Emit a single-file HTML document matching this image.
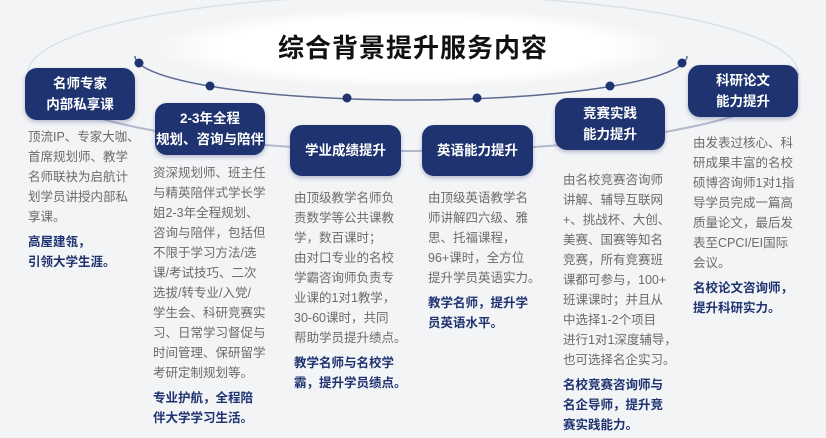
<!DOCTYPE html>
<html><head><meta charset="utf-8"><style>
html,body{margin:0;padding:0}
body{width:826px;height:438px;overflow:hidden;background:#f3f4f6;position:relative;font-family:"Liberation Sans","Noto Sans CJK SC",sans-serif}
.b{position:absolute;background:#1e3370;color:#fff;border-radius:12px;font-weight:bold;font-size:13.5px;line-height:21px;display:flex;align-items:center;justify-content:center;text-align:center;box-shadow:0 2px 4px rgba(30,51,112,.3)}
.t{position:absolute;color:#6b6b6b;font-size:12.5px;line-height:20px;white-space:nowrap}
.t b{display:block;color:#1e3370;font-weight:bold;margin-top:5px}
svg{position:absolute;left:0;top:0}
</style></head><body>
<svg width="826" height="438">
<defs><radialGradient id="g" cx="50%" cy="50%" r="50%"><stop offset="0" stop-color="#fff"/><stop offset="0.75" stop-color="#fff"/><stop offset="1" stop-color="#f3f4f6"/></radialGradient></defs>
<path d="M28,73 A385,78 0 0 1 798,73" fill="none" stroke="#dde0e8" stroke-width="1.5"/>
<path d="M28,73 A385,78 0 0 0 798,73" fill="none" stroke="#b3b9cd" stroke-width="2"/>
<ellipse cx="413" cy="48" rx="260" ry="40" fill="url(#g)"/>
<path d="M135,56 A276,44 0 0 0 687,56" fill="none" stroke="#5d6a92" stroke-width="1.5"/>
<g fill="#1e3370"><circle cx="139" cy="63" r="4.5"/><circle cx="210" cy="86" r="4.5"/><circle cx="347" cy="98" r="4.5"/><circle cx="477" cy="98" r="4.5"/><circle cx="610" cy="86" r="4.5"/><circle cx="682" cy="63" r="4.5"/></g>
</svg>
<div style="position:absolute;left:0;width:826px;top:28px;text-align:center;font-size:26px;font-weight:bold;color:#111;letter-spacing:1px">综合背景提升服务内容</div>
<div class="b" style="left:25px;top:68px;width:110px;height:52px">名师专家<br>内部私享课</div>
<div class="b" style="left:155px;top:103px;width:110px;height:52px">2-3年全程<br>规划、咨询与陪伴</div>
<div class="b" style="left:290px;top:125px;width:111px;height:51px">学业成绩提升</div>
<div class="b" style="left:422px;top:125px;width:111px;height:51px">英语能力提升</div>
<div class="b" style="left:555px;top:98px;width:110px;height:52px">竞赛实践<br>能力提升</div>
<div class="b" style="left:688px;top:65px;width:110px;height:52px">科研论文<br>能力提升</div>
<div class="t" style="left:28px;top:127px">顶流IP、专家大咖、<br>首席规划师、教学<br>名师联袂为启航计<br>划学员讲授内部私<br>享课。<b>高屋建瓴，<br>引领大学生涯。</b></div>
<div class="t" style="left:153px;top:163px">资深规划师、班主任<br>与精英陪伴式学长学<br>姐2-3年全程规划、<br>咨询与陪伴，包括但<br>不限于学习方法/选<br>课/考试技巧、二次<br>选拔/转专业/入党/<br>学生会、科研竞赛实<br>习、日常学习督促与<br>时间管理、保研留学<br>考研定制规划等。<b>专业护航，全程陪<br>伴大学学习生活。</b></div>
<div class="t" style="left:294px;top:188px">由顶级教学名师负<br>责数学等公共课教<br>学，数百课时；<br>由对口专业的名校<br>学霸咨询师负责专<br>业课的1对1教学，<br>30-60课时，共同<br>帮助学员提升绩点。<b>教学名师与名校学<br>霸，提升学员绩点。</b></div>
<div class="t" style="left:428px;top:188px">由顶级英语教学名<br>师讲解四六级、雅<br>思、托福课程，<br>96+课时，全方位<br>提升学员英语实力。<b>教学名师，提升学<br>员英语水平。</b></div>
<div class="t" style="left:563px;top:170px">由名校竞赛咨询师<br>讲解、辅导互联网<br>+、挑战杯、大创、<br>美赛、国赛等知名<br>竞赛，所有竞赛班<br>课都可参与，100+<br>班课课时；并且从<br>中选择1-2个项目<br>进行1对1深度辅导，<br>也可选择名企实习。<b>名校竞赛咨询师与<br>名企导师，提升竞<br>赛实践能力。</b></div>
<div class="t" style="left:693px;top:133px">由发表过核心、科<br>研成果丰富的名校<br>硕博咨询师1对1指<br>导学员完成一篇高<br>质量论文，最后发<br>表至CPCI/EI国际<br>会议。<b>名校论文咨询师，<br>提升科研实力。</b></div>
</body></html>
